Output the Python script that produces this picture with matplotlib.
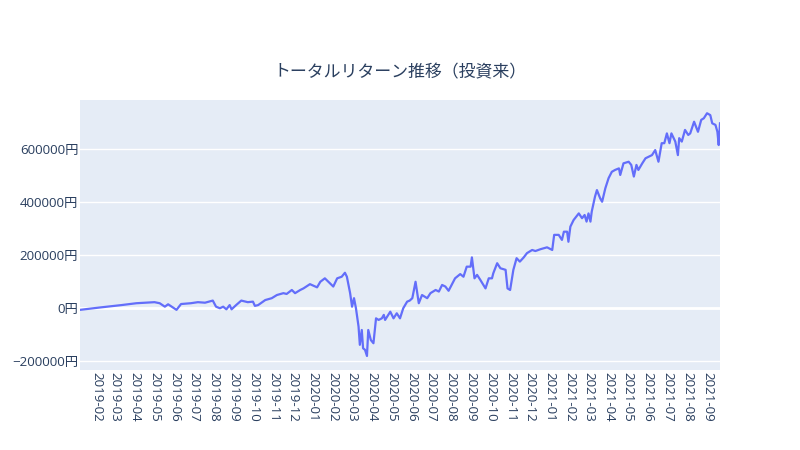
import pandas as pd
import matplotlib
matplotlib.use("Agg")
import matplotlib.pyplot as plt
import matplotlib.dates as mdates
from matplotlib.ticker import FuncFormatter

plt.rcParams['font.family'] = ['Open Sans', 'Noto Sans CJK JP', 'DejaVu Sans']

title = "トータルリターン推移（投資来）"

# 日付と累計リターン（円）
dates = [
    "2019-01-06", "2019-02-06", "2019-03-11", "2019-04-03", "2019-05-01", "2019-05-09",
    "2019-05-17", "2019-05-22", "2019-06-04", "2019-06-11", "2019-06-26", "2019-07-07",
    "2019-07-18", "2019-07-30", "2019-08-04", "2019-08-10", "2019-08-15", "2019-08-20",
    "2019-08-25", "2019-08-28", "2019-09-04", "2019-09-12", "2019-09-22", "2019-09-30",
    "2019-10-03", "2019-10-08", "2019-10-19", "2019-10-29", "2019-11-06", "2019-11-16",
    "2019-11-21", "2019-11-29", "2019-12-04", "2019-12-12", "2019-12-17", "2019-12-27",
    "2020-01-07", "2020-01-12", "2020-01-19", "2020-01-27", "2020-02-01", "2020-02-07",
    "2020-02-14", "2020-02-19", "2020-02-22", "2020-02-27", "2020-03-01", "2020-03-04",
    "2020-03-07", "2020-03-11", "2020-03-13", "2020-03-16", "2020-03-18", "2020-03-21",
    "2020-03-24", "2020-03-26", "2020-03-30", "2020-04-03", "2020-04-07", "2020-04-11",
    "2020-04-16", "2020-04-19", "2020-04-21", "2020-04-29", "2020-05-04", "2020-05-09",
    "2020-05-14", "2020-05-19", "2020-05-25", "2020-05-29", "2020-06-02", "2020-06-07",
    "2020-06-12", "2020-06-17", "2020-06-25", "2020-06-30", "2020-07-08", "2020-07-13",
    "2020-07-18", "2020-07-23", "2020-07-28", "2020-08-07", "2020-08-15", "2020-08-20",
    "2020-08-25", "2020-08-31", "2020-09-02", "2020-09-06", "2020-09-10", "2020-09-15",
    "2020-09-23", "2020-09-28", "2020-10-03", "2020-10-05", "2020-10-11", "2020-10-16",
    "2020-10-24", "2020-10-27", "2020-10-31", "2020-11-05", "2020-11-10", "2020-11-15",
    "2020-11-21", "2020-11-26", "2020-12-04", "2020-12-09", "2020-12-17", "2020-12-27",
    "2021-01-04", "2021-01-07", "2021-01-14", "2021-01-19", "2021-01-22", "2021-01-27",
    "2021-01-29", "2021-02-01", "2021-02-06", "2021-02-14", "2021-02-19", "2021-02-23",
    "2021-02-26", "2021-03-01", "2021-03-04", "2021-03-06", "2021-03-11", "2021-03-14",
    "2021-03-19", "2021-03-22", "2021-03-27", "2021-04-01", "2021-04-06", "2021-04-11",
    "2021-04-17", "2021-04-19", "2021-04-24", "2021-05-02", "2021-05-06", "2021-05-10",
    "2021-05-14", "2021-05-17", "2021-05-23", "2021-05-28", "2021-06-02", "2021-06-07",
    "2021-06-12", "2021-06-17", "2021-06-22", "2021-06-26", "2021-06-30", "2021-07-04",
    "2021-07-07", "2021-07-13", "2021-07-17", "2021-07-19", "2021-07-23", "2021-07-28",
    "2021-08-02", "2021-08-05", "2021-08-11", "2021-08-17", "2021-08-22", "2021-08-26",
    "2021-08-31", "2021-09-05", "2021-09-08", "2021-09-13", "2021-09-16", "2021-09-18",
    "2021-09-20",
]
returns = [
    -6000, 3000, 12000, 19000, 23000, 19000,
    6000, 15000, -6000, 16000, 19000, 23000,
    21000, 29000, 6000, 0, 6000, -4000,
    12000, -4000, 12000, 29000, 23000, 25000,
    9000, 12000, 31000, 38000, 50000, 57000,
    54000, 69000, 57000, 69000, 75000, 91000,
    79000, 100000, 113000, 94000, 82000, 113000,
    119000, 134000, 119000, 57000, 6000, 38000,
    0, -69000, -138000, -82000, -151000, -157000,
    -180000, -82000, -120000, -132000, -38000, -44000,
    -38000, -25000, -44000, -13000, -38000, -19000,
    -38000, 0, 25000, 29000, 38000, 100000,
    19000, 50000, 38000, 57000, 69000, 63000,
    88000, 82000, 66000, 113000, 129000, 119000,
    157000, 157000, 192000, 113000, 126000, 107000,
    75000, 113000, 113000, 132000, 170000, 151000,
    145000, 75000, 69000, 145000, 189000, 176000,
    192000, 208000, 220000, 216000, 223000, 230000,
    220000, 277000, 277000, 258000, 289000, 289000,
    251000, 308000, 333000, 358000, 340000, 352000,
    327000, 358000, 327000, 365000, 421000, 446000,
    415000, 402000, 453000, 491000, 515000, 522000,
    528000, 503000, 547000, 553000, 541000, 497000,
    541000, 522000, 547000, 566000, 572000, 578000,
    597000, 553000, 623000, 623000, 660000, 623000,
    660000, 629000, 578000, 642000, 629000, 673000,
    654000, 660000, 704000, 666000, 711000, 717000,
    736000, 729000, 698000, 692000, 666000, 616000,
    698000,
]

y_ticks = [-200000, 0, 200000, 400000, 600000]

text_color = '#2a3f5f'
bg_color = '#E5ECF6'
line_color = '#636EFA'

x = pd.to_datetime(dates)

fig = plt.figure(figsize=(8, 4.5), dpi=100)
ax = fig.add_axes([0.1, 1 - 370 / 450, 0.8, 270 / 450])
ax.set_facecolor(bg_color)

ax.plot(x, returns, color=line_color, linewidth=1.6, zorder=3)

ax.set_xlim(x[0], x[-1])
ax.set_ylim(-233000, 786000)

ax.set_yticks(y_ticks)
ax.yaxis.set_major_formatter(FuncFormatter(lambda v, p: f"{int(v)}円".replace('-', '\u2212')))
ax.grid(axis='y', color='white', linewidth=1, zorder=1)
ax.axhline(0, color='white', linewidth=2, zorder=2)

ax.xaxis.set_major_locator(mdates.MonthLocator())
ax.xaxis.set_major_formatter(mdates.DateFormatter('%Y-%m'))
for lbl in ax.get_xticklabels():
    lbl.set_rotation(-90)

ax.tick_params(axis='both', length=0, labelsize=9.6, labelcolor=text_color)
ax.tick_params(axis='x', pad=1.5)
ax.tick_params(axis='y', pad=1.2)
for s in ax.spines.values():
    s.set_visible(False)

fig.text(0.5, 1 - 72 / 450, title, ha='center', va='center', fontsize=12.2,
         color=text_color, family=['Noto Sans CJK JP', 'DejaVu Sans'])

fig.savefig('out.png', dpi=100)
